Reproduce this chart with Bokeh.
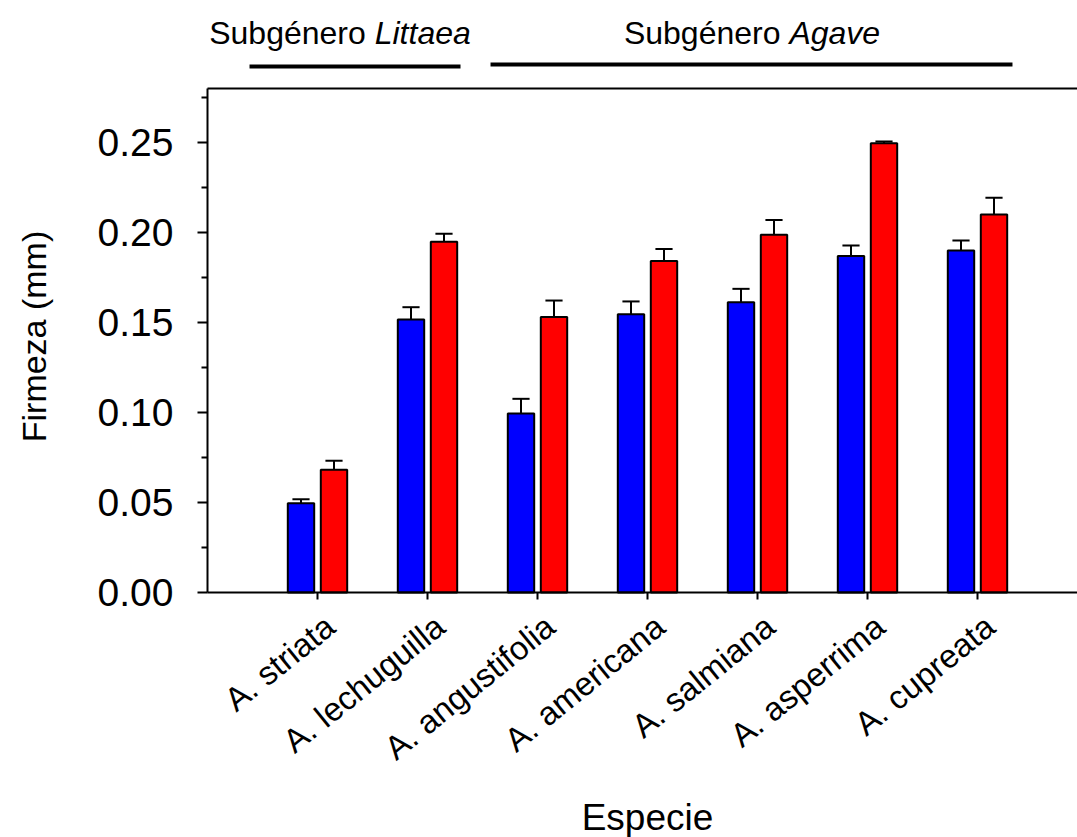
import math
from bokeh.plotting import figure
from bokeh.models import (ColumnDataSource, FixedTicker, Range1d, LinearAxis,
                          NumeralTickFormatter, Grid)
from bokeh.core.properties import value
from bokeh.embed import file_html
from bokeh.resources import INLINE

# ---------------- data ----------------
species = ["A. striata", "A. lechuguilla", "A. angustifolia", "A. americana",
           "A. salmiana", "A. asperrima", "A. cupreata"]
blue_vals = [0.0496, 0.1517, 0.0995, 0.1546, 0.1613, 0.1870, 0.1900]
blue_err = [0.0022, 0.0068, 0.0081, 0.0071, 0.0074, 0.0058, 0.0056]
red_vals = [0.0682, 0.1948, 0.1530, 0.1841, 0.1987, 0.2496, 0.2100]
red_err = [0.0050, 0.0045, 0.0092, 0.0068, 0.0083, 0.0010, 0.0093]
y_major = [0.00, 0.05, 0.10, 0.15, 0.20, 0.25]
y_minor = [0.025, 0.075, 0.125, 0.175, 0.225, 0.275]

FONT = "Liberation Sans"

positions = list(range(1, len(species) + 1))
OFF = 0.15
BW = 0.24
CAP = 0.078

def make_src(vals, errs, off):
    xs = [x + off for x in positions]
    tops = [v + e for v, e in zip(vals, errs)]
    return ColumnDataSource(dict(
        x=xs, top=vals, etop=tops,
        cl=[x - CAP for x in xs], cr=[x + CAP for x in xs]))

blue_src = make_src(blue_vals, blue_err, -OFF)
red_src = make_src(red_vals, red_err, OFF)

W, H = 1077, 837
X0, Y0 = 207, 592              # pixel position of data origin
PXX = 110                      # px per category
PXY = 1800                     # px per unit of firmness
Y_TOP = 0.28
X_END = (W - X0) / PXX

def dx(px):   # pixel distance -> x data
    return px / PXX

def dy(px):   # pixel distance -> y data
    return px / PXY

p = figure(width=W, height=H, output_backend="svg", toolbar_location=None,
           x_range=Range1d(-X0 / PXX, (W - X0) / PXX),
           y_range=Range1d(-(H - Y0) / PXY, Y0 / PXY),
           x_axis_location=None, y_axis_location=None,
           min_border_left=0, min_border_right=0, min_border_top=0,
           min_border_bottom=0)
p.outline_line_color = None
p.background_fill_color = "white"
p.border_fill_color = "white"

for src, col in ((blue_src, "#0000FF"), (red_src, "#FF0000")):
    p.segment(x0="x", y0="top", x1="x", y1="etop", source=src,
              line_color="black", line_width=2)
    p.segment(x0="cl", y0="etop", x1="cr", y1="etop", source=src,
              line_color="black", line_width=2)
    p.vbar(x="x", top="top", bottom=0, width=BW, source=src,
           fill_color=col, line_color="black", line_width=2)

# top frame line
p.segment(x0=[0], y0=[Y_TOP], x1=[X_END], y1=[Y_TOP], line_color="black", line_width=2)

# y axis
ya = LinearAxis(fixed_location=0, bounds=(0, Y_TOP),
                ticker=FixedTicker(ticks=y_major, minor_ticks=y_minor),
                formatter=NumeralTickFormatter(format="0.00"))
ya.axis_line_width = 2
ya.major_tick_line_width = 2
ya.minor_tick_line_width = 2
ya.major_tick_in = 0
ya.major_tick_out = 10
ya.minor_tick_in = 0
ya.minor_tick_out = 6
ya.major_label_text_font = FONT
ya.major_label_text_font_size = "39px"
ya.major_label_text_color = "black"
ya.major_label_standoff = 24
p.add_layout(ya, "left")

# x axis
xa = LinearAxis(fixed_location=0, bounds=(0, X_END),
                ticker=FixedTicker(ticks=positions, minor_ticks=[]))
xa.major_label_text_font_size = "0px"
xa.major_label_text_color = None
xa.axis_line_width = 2
xa.major_tick_line_width = 2
xa.major_tick_in = 0
xa.major_tick_out = 7
xa.minor_tick_line_color = None
p.add_layout(xa, "below")

# remove any grid renderers
p.renderers = [r for r in p.renderers if not isinstance(r, Grid)]
p.center = [r for r in p.center if not isinstance(r, Grid)]

# category labels
lab_src = ColumnDataSource(dict(x=[x + dx(1) for x in positions],
                                y=[-dy(15)] * len(positions), t=species))
p.text(x="x", y="y", text="t", source=lab_src, angle=math.radians(39),
       text_font=value(FONT), text_font_size="33px", text_color="black",
       text_align="right", text_baseline="top")

# axis titles
p.text(x=[4], y=[-dy(796 - Y0)], text=["Especie"], text_font=value(FONT),
       text_font_size="37px", text_align="center", text_baseline="top",
       text_color="black")
p.text(x=[-dx(X0 - 33)], y=[dy(Y0 - 336)], text=["Firmeza (mm)"],
       angle=math.pi / 2, text_font=value(FONT), text_font_size="34px",
       text_align="center", text_baseline="middle", text_color="black")

# subgenus headers
HY_TXT = dy(Y0 - 14)
HFS = "32px"
for xs, italic in ((1.52, "Littaea"), (5.29, "Agave")):
    p.text(x=[xs], y=[HY_TXT], text=["Subgénero "], text_font=value(FONT),
           text_font_size=HFS, text_align="right", text_baseline="top",
           text_color="black")
    p.text(x=[xs], y=[HY_TXT], text=[italic], text_font=value(FONT),
           text_font_size=HFS, text_font_style="italic", text_align="left",
           text_baseline="top", text_color="black")
p.segment(x0=[0.382, 2.573], y0=[dy(Y0 - 66), dy(Y0 - 64)],
          x1=[2.30, 7.318], y1=[dy(Y0 - 66), dy(Y0 - 64)],
          line_color="black", line_width=4)

open("out.html", "w").write(file_html(p, INLINE))
